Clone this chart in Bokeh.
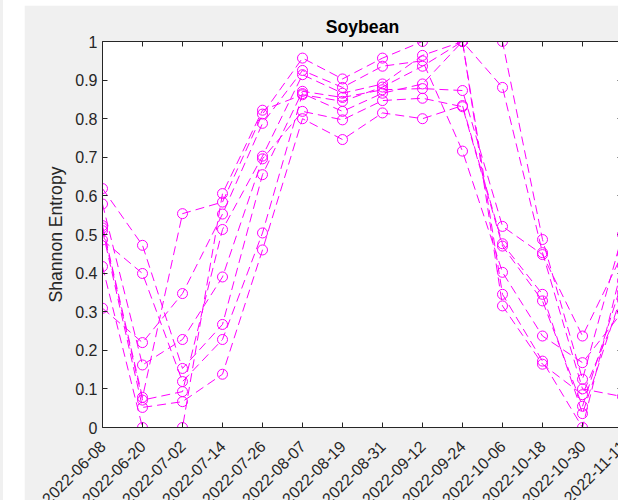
import math
import pandas as pd
from bokeh.plotting import figure
from bokeh.models import (FixedTicker, LinearAxis, Range1d, DatetimeTickFormatter, Spacer)
from bokeh.layouts import row, column
from bokeh.embed import file_html
from bokeh.resources import INLINE

# Acquisition dates (12-day revisit)
dates = ["2022-06-08", "2022-06-20", "2022-07-02", "2022-07-14", "2022-07-26",
         "2022-08-07", "2022-08-19", "2022-08-31", "2022-09-12", "2022-09-24",
         "2022-10-06", "2022-10-18", "2022-10-30", "2022-11-11"]

# Shannon entropy per field, one list per field
field_1 = [0.619, 0.472, 0.153, 0.267, 0.655, 0.871, 0.855, 0.875, 0.878, 0.873, 0.521, 0.448, 0.237, 0.45]
field_2 = [0.579, 0.162, 0.228, 0.390, 0.696, 0.819, 0.797, 0.847, 0.853, 0.831, 0.470, 0.328, 0.055, 0.38]
field_3 = [0.523, 0.078, 0.554, 0.584, 0.812, 0.957, 0.903, 0.957, 1.000, 1.000, 1.000, 0.487, 0.125, 0.50]
field_4 = [0.517, 0.071, 0.093, 0.513, 0.703, 0.914, 0.866, 0.890, 0.964, 1.000, 0.881, 0.453, 0.100, 0.08]
field_5 = [0.510, 0.052, 0.067, 0.138, 0.460, 0.800, 0.746, 0.815, 0.800, 0.834, 0.476, 0.345, 0.036, 0.35]
field_6 = [0.486, 0.399, 0.119, 0.228, 0.504, 0.865, 0.819, 0.866, 0.890, 1.000, 0.315, 0.164, 0.085, 0.33]
field_7 = [0.417, 0.000, 0.000, 0.606, 0.822, 0.862, 0.845, 0.882, 0.936, 1.000, 0.345, 0.172, 0.000, 0.42]
field_8 = [0.309, 0.220, 0.347, 0.553, 0.788, 0.925, 0.881, 0.936, 0.950, 0.716, 0.402, 0.237, 0.168, 0.30]
fields = [field_1, field_2, field_3, field_4, field_5, field_6, field_7, field_8]

y_ticks = [0, 0.1, 0.2, 0.3, 0.4, 0.5, 0.6, 0.7, 0.8, 0.9, 1]
y_tick_labels = ["0", "0.1", "0.2", "0.3", "0.4", "0.5", "0.6", "0.7", "0.8", "0.9", "1"]

title_text = "Soybean"
y_label = "Shannon Entropy"

MAGENTA = "#ff00ff"
AXIS_COLOR = "#262626"
PANEL = "#f0f0f0"
FONT = "Liberation Sans"

x = pd.to_datetime(dates)
tick_ms = [int(t.value // 10**6) for t in x]

# the figure runs a little past the right/bottom window edge; the page clips it
p = figure(width=608, height=512, x_axis_type="datetime",
           x_range=Range1d(x[0], x[-1]), y_range=Range1d(0, 1),
           output_backend="svg", toolbar_location=None,
           min_border_left=78, min_border_right=10, min_border_top=36, min_border_bottom=90,
           border_fill_color=PANEL, background_fill_color="white",
           outline_line_color=None)

for vals in fields:
    p.line(x, vals, line_color=MAGENTA, line_width=1, line_dash="9 5")
    p.scatter(x, vals, marker="circle", size=10, fill_color=None,
              line_color=MAGENTA, line_width=1)

p.grid.visible = False

# bottom axis
xa = p.xaxis[0]
xa.ticker = FixedTicker(ticks=tick_ms)
fmt = "%Y-%m-%d"
xa.formatter = DatetimeTickFormatter(milliseconds=fmt, seconds=fmt, minsec=fmt, minutes=fmt,
                                     hourmin=fmt, hours=fmt, days=fmt, months=fmt, years=fmt)
xa.major_label_orientation = math.pi / 4
xa.major_label_text_font = FONT
xa.major_label_text_font_size = "16px"
xa.major_label_text_color = AXIS_COLOR
xa.major_label_standoff = 16
xa.major_tick_in = 5
xa.major_tick_out = 0
xa.minor_tick_line_color = None
xa.axis_line_color = AXIS_COLOR
xa.major_tick_line_color = AXIS_COLOR

# left axis
ya = p.yaxis[0]
ya.ticker = FixedTicker(ticks=y_ticks)
ya.major_label_overrides = dict(zip(y_ticks, y_tick_labels))
ya.major_label_text_font = FONT
ya.major_label_text_font_size = "16px"
ya.major_label_text_color = AXIS_COLOR
ya.major_label_standoff = 5
ya.major_tick_in = 5
ya.major_tick_out = 0
ya.minor_tick_line_color = None
ya.axis_line_color = AXIS_COLOR
ya.major_tick_line_color = AXIS_COLOR
ya.axis_label = y_label
ya.axis_label_text_font = FONT
ya.axis_label_text_font_size = "17.6px"
ya.axis_label_text_font_style = "normal"
ya.axis_label_text_color = AXIS_COLOR
ya.axis_label_standoff = 6

# top and right box edges with inward ticks, no labels
top = LinearAxis(ticker=FixedTicker(ticks=tick_ms), major_tick_in=5, major_tick_out=0,
                 minor_tick_line_color=None, axis_line_color=AXIS_COLOR,
                 major_tick_line_color=AXIS_COLOR, major_label_text_font_size="0px",
                 major_label_text_color=None, major_label_standoff=0)
p.add_layout(top, "above")
right = LinearAxis(ticker=FixedTicker(ticks=y_ticks), major_tick_in=5, major_tick_out=0,
                   minor_tick_line_color=None, axis_line_color=AXIS_COLOR,
                   major_tick_line_color=AXIS_COLOR, major_label_text_font_size="0px",
                   major_label_text_color=None, major_label_standoff=0)
p.add_layout(right, "right")

p.title.text = title_text
p.title.align = "center"
p.title.text_font = FONT
p.title.text_font_size = "17.6px"
p.title.text_font_style = "bold"
p.title.text_color = "#000000"

left_strip = Spacer(width=3, height=500, styles={"background-color": PANEL})
gap = Spacer(width=21, height=500)
inner = column(Spacer(width=608, height=5), p)
page = row(left_strip, gap, inner, width=618, height=500,
           styles={"overflow": "hidden"})

open("out.html", "w").write(file_html(page, INLINE))
